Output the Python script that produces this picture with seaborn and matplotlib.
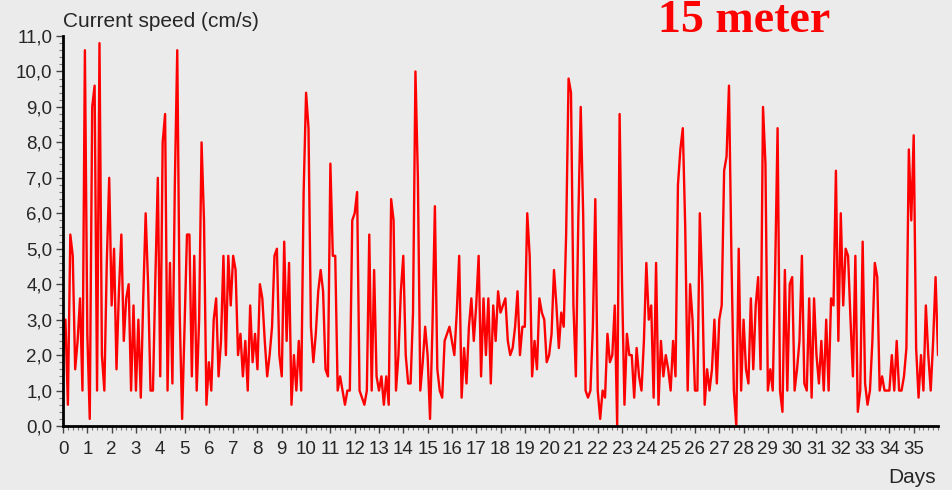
import numpy as np
import pandas as pd
import matplotlib
matplotlib.use('Agg')
import matplotlib.pyplot as plt
from matplotlib.ticker import MultipleLocator, FuncFormatter
import seaborn as sns

# current speed (cm/s), 10 readings per day
day00 = [2.0, 3.0, 0.6, 5.4, 4.8, 1.6, 2.4, 3.6, 1.0, 10.6]
day01 = [2.6, 0.2, 9.0, 9.6, 1.0, 10.8, 2.0, 1.0, 4.6, 7.0]
day02 = [3.4, 5.0, 1.6, 3.8, 5.4, 2.4, 3.6, 4.0, 1.0, 3.4]
day03 = [1.0, 3.0, 0.8, 3.6, 6.0, 4.0, 1.0, 1.0, 4.2, 7.0]
day04 = [1.4, 8.0, 8.8, 1.0, 4.6, 1.2, 6.8, 10.6, 3.2, 0.2]
day05 = [2.8, 5.4, 5.4, 1.4, 4.8, 1.0, 3.0, 8.0, 5.8, 0.6]
day06 = [1.8, 1.0, 3.0, 3.6, 1.4, 2.4, 4.8, 2.0, 4.8, 3.4]
day07 = [4.8, 4.4, 2.0, 2.6, 1.4, 2.4, 1.0, 3.4, 1.8, 2.6]
day08 = [1.6, 4.0, 3.6, 2.4, 1.4, 2.0, 2.8, 4.8, 5.0, 2.0]
day09 = [1.4, 5.2, 2.4, 4.6, 0.6, 2.0, 1.0, 2.4, 1.0, 6.6]
day10 = [9.4, 8.4, 2.8, 1.8, 2.6, 3.8, 4.4, 3.8, 1.6, 1.4]
day11 = [7.4, 4.8, 4.8, 1.0, 1.4, 1.0, 0.6, 1.0, 1.0, 5.8]
day12 = [6.0, 6.6, 1.0, 0.8, 0.6, 1.0, 5.4, 1.0, 4.4, 1.4]
day13 = [1.0, 1.4, 0.6, 1.4, 0.6, 6.4, 5.8, 1.0, 2.0, 3.8]
day14 = [4.8, 2.0, 1.2, 1.2, 3.2, 10.0, 7.0, 1.0, 1.8, 2.8]
day15 = [2.0, 0.2, 2.8, 6.2, 1.6, 1.0, 0.8, 2.4, 2.6, 2.8]
day16 = [2.4, 2.0, 3.2, 4.8, 0.8, 2.2, 1.2, 2.8, 3.6, 2.4]
day17 = [3.4, 4.8, 1.4, 3.6, 2.0, 3.6, 1.2, 3.4, 2.4, 3.8]
day18 = [3.2, 3.4, 3.6, 2.4, 2.0, 2.2, 2.8, 3.8, 2.0, 2.8]
day19 = [2.8, 6.0, 4.8, 1.4, 2.4, 1.6, 3.6, 3.2, 3.0, 1.8]
day20 = [2.0, 2.6, 4.4, 3.4, 2.2, 3.2, 2.8, 5.4, 9.8, 9.4]
day21 = [3.4, 1.4, 5.8, 9.0, 6.0, 1.0, 0.8, 1.0, 2.8, 6.4]
day22 = [1.0, 0.2, 1.0, 0.8, 2.6, 1.8, 2.0, 3.4, 0.0, 8.8]
day23 = [4.0, 0.6, 2.6, 2.0, 2.0, 0.8, 2.2, 1.4, 1.0, 2.4]
day24 = [4.6, 3.0, 3.4, 0.8, 4.6, 0.6, 2.4, 1.4, 2.0, 1.6]
day25 = [1.0, 2.4, 1.4, 6.8, 7.8, 8.4, 5.6, 1.0, 4.0, 3.0]
day26 = [1.0, 1.0, 6.0, 4.0, 0.6, 1.6, 1.0, 1.6, 3.0, 1.2]
day27 = [3.0, 3.4, 7.2, 7.6, 9.6, 4.8, 1.0, 0.0, 5.0, 1.0]
day28 = [3.0, 1.6, 1.2, 3.6, 1.6, 3.4, 4.2, 1.6, 9.0, 7.4]
day29 = [1.0, 1.6, 1.0, 4.4, 8.4, 1.0, 0.4, 4.4, 1.0, 4.0]
day30 = [4.2, 1.0, 1.6, 2.4, 4.8, 1.2, 1.0, 3.6, 0.8, 3.6]
day31 = [2.0, 1.2, 2.4, 1.0, 3.0, 1.0, 3.6, 3.4, 7.2, 2.4]
day32 = [6.0, 3.4, 5.0, 4.8, 3.0, 1.4, 4.8, 0.4, 1.0, 5.2]
day33 = [1.2, 0.6, 1.0, 2.4, 4.6, 4.2, 1.0, 1.4, 1.0, 1.0]
day34 = [1.0, 2.0, 1.0, 2.4, 1.0, 1.0, 1.4, 2.2, 7.8, 5.8]
day35 = [8.2, 2.2, 0.8, 2.0, 1.0, 3.4, 2.0, 1.0, 2.4, 4.2, 2.0]

samples_per_day = 10
x_ticks = list(range(0, 36))
y_ticks = list(range(0, 12))

speed = (day00 + day01 + day02 + day03 + day04 + day05 + day06 + day07 + day08
         + day09 + day10 + day11 + day12 + day13 + day14 + day15 + day16 + day17
         + day18 + day19 + day20 + day21 + day22 + day23 + day24 + day25 + day26
         + day27 + day28 + day29 + day30 + day31 + day32 + day33 + day34 + day35)
df = pd.DataFrame({'days': np.arange(len(speed)) / samples_per_day, 'speed': speed})

bg = '#ebebeb'
sns.set_style('white', {'axes.facecolor': bg, 'figure.facecolor': bg})
plt.rcParams['font.family'] = ['Liberation Sans', 'DejaVu Sans']

fig = plt.figure(figsize=(9.52, 4.9), dpi=100)
ax = fig.add_axes([0.0662, 0.1306, 0.9191, 0.7959])
sns.lineplot(data=df, x='days', y='speed', color='#ff0000', linewidth=1.7, ax=ax)

ax.set_xlim(0, 36)
ax.set_ylim(0, 11)
ax.set_xticks(x_ticks)
ax.set_yticks(y_ticks)
ax.xaxis.set_minor_locator(MultipleLocator(0.2))
ax.yaxis.set_minor_locator(MultipleLocator(0.2))
ax.yaxis.set_major_formatter(FuncFormatter(lambda v, p: f'{v:.1f}'.replace('.', ',')))
ax.tick_params(which='major', length=5, width=1, color='#444444', labelsize=13.5, pad=2.5,
               bottom=True, left=True)
ax.tick_params(axis='x', which='major', pad=5.5)
ax.tick_params(which='minor', length=3, width=0.8, color='#777777', bottom=True, left=True)
ax.set_xlabel('')
ax.set_ylabel('')

for side in ['top', 'right']:
    ax.spines[side].set_visible(False)
for side in ['left', 'bottom']:
    ax.spines[side].set_color('black')
    ax.spines[side].set_linewidth(2)

fig.text(0.0665, 0.9455, 'Current speed (cm/s)', fontsize=15, va='baseline', ha='left')
fig.text(0.983, 0.015, 'Days', fontsize=15, va='baseline', ha='right')
fig.text(0.691, 0.935, '15 meter', fontsize=33, fontweight='bold', color='#ff0000',
         family=['Liberation Serif', 'DejaVu Serif'], va='baseline', ha='left')

fig.savefig('out.png', dpi=100, facecolor=bg)
